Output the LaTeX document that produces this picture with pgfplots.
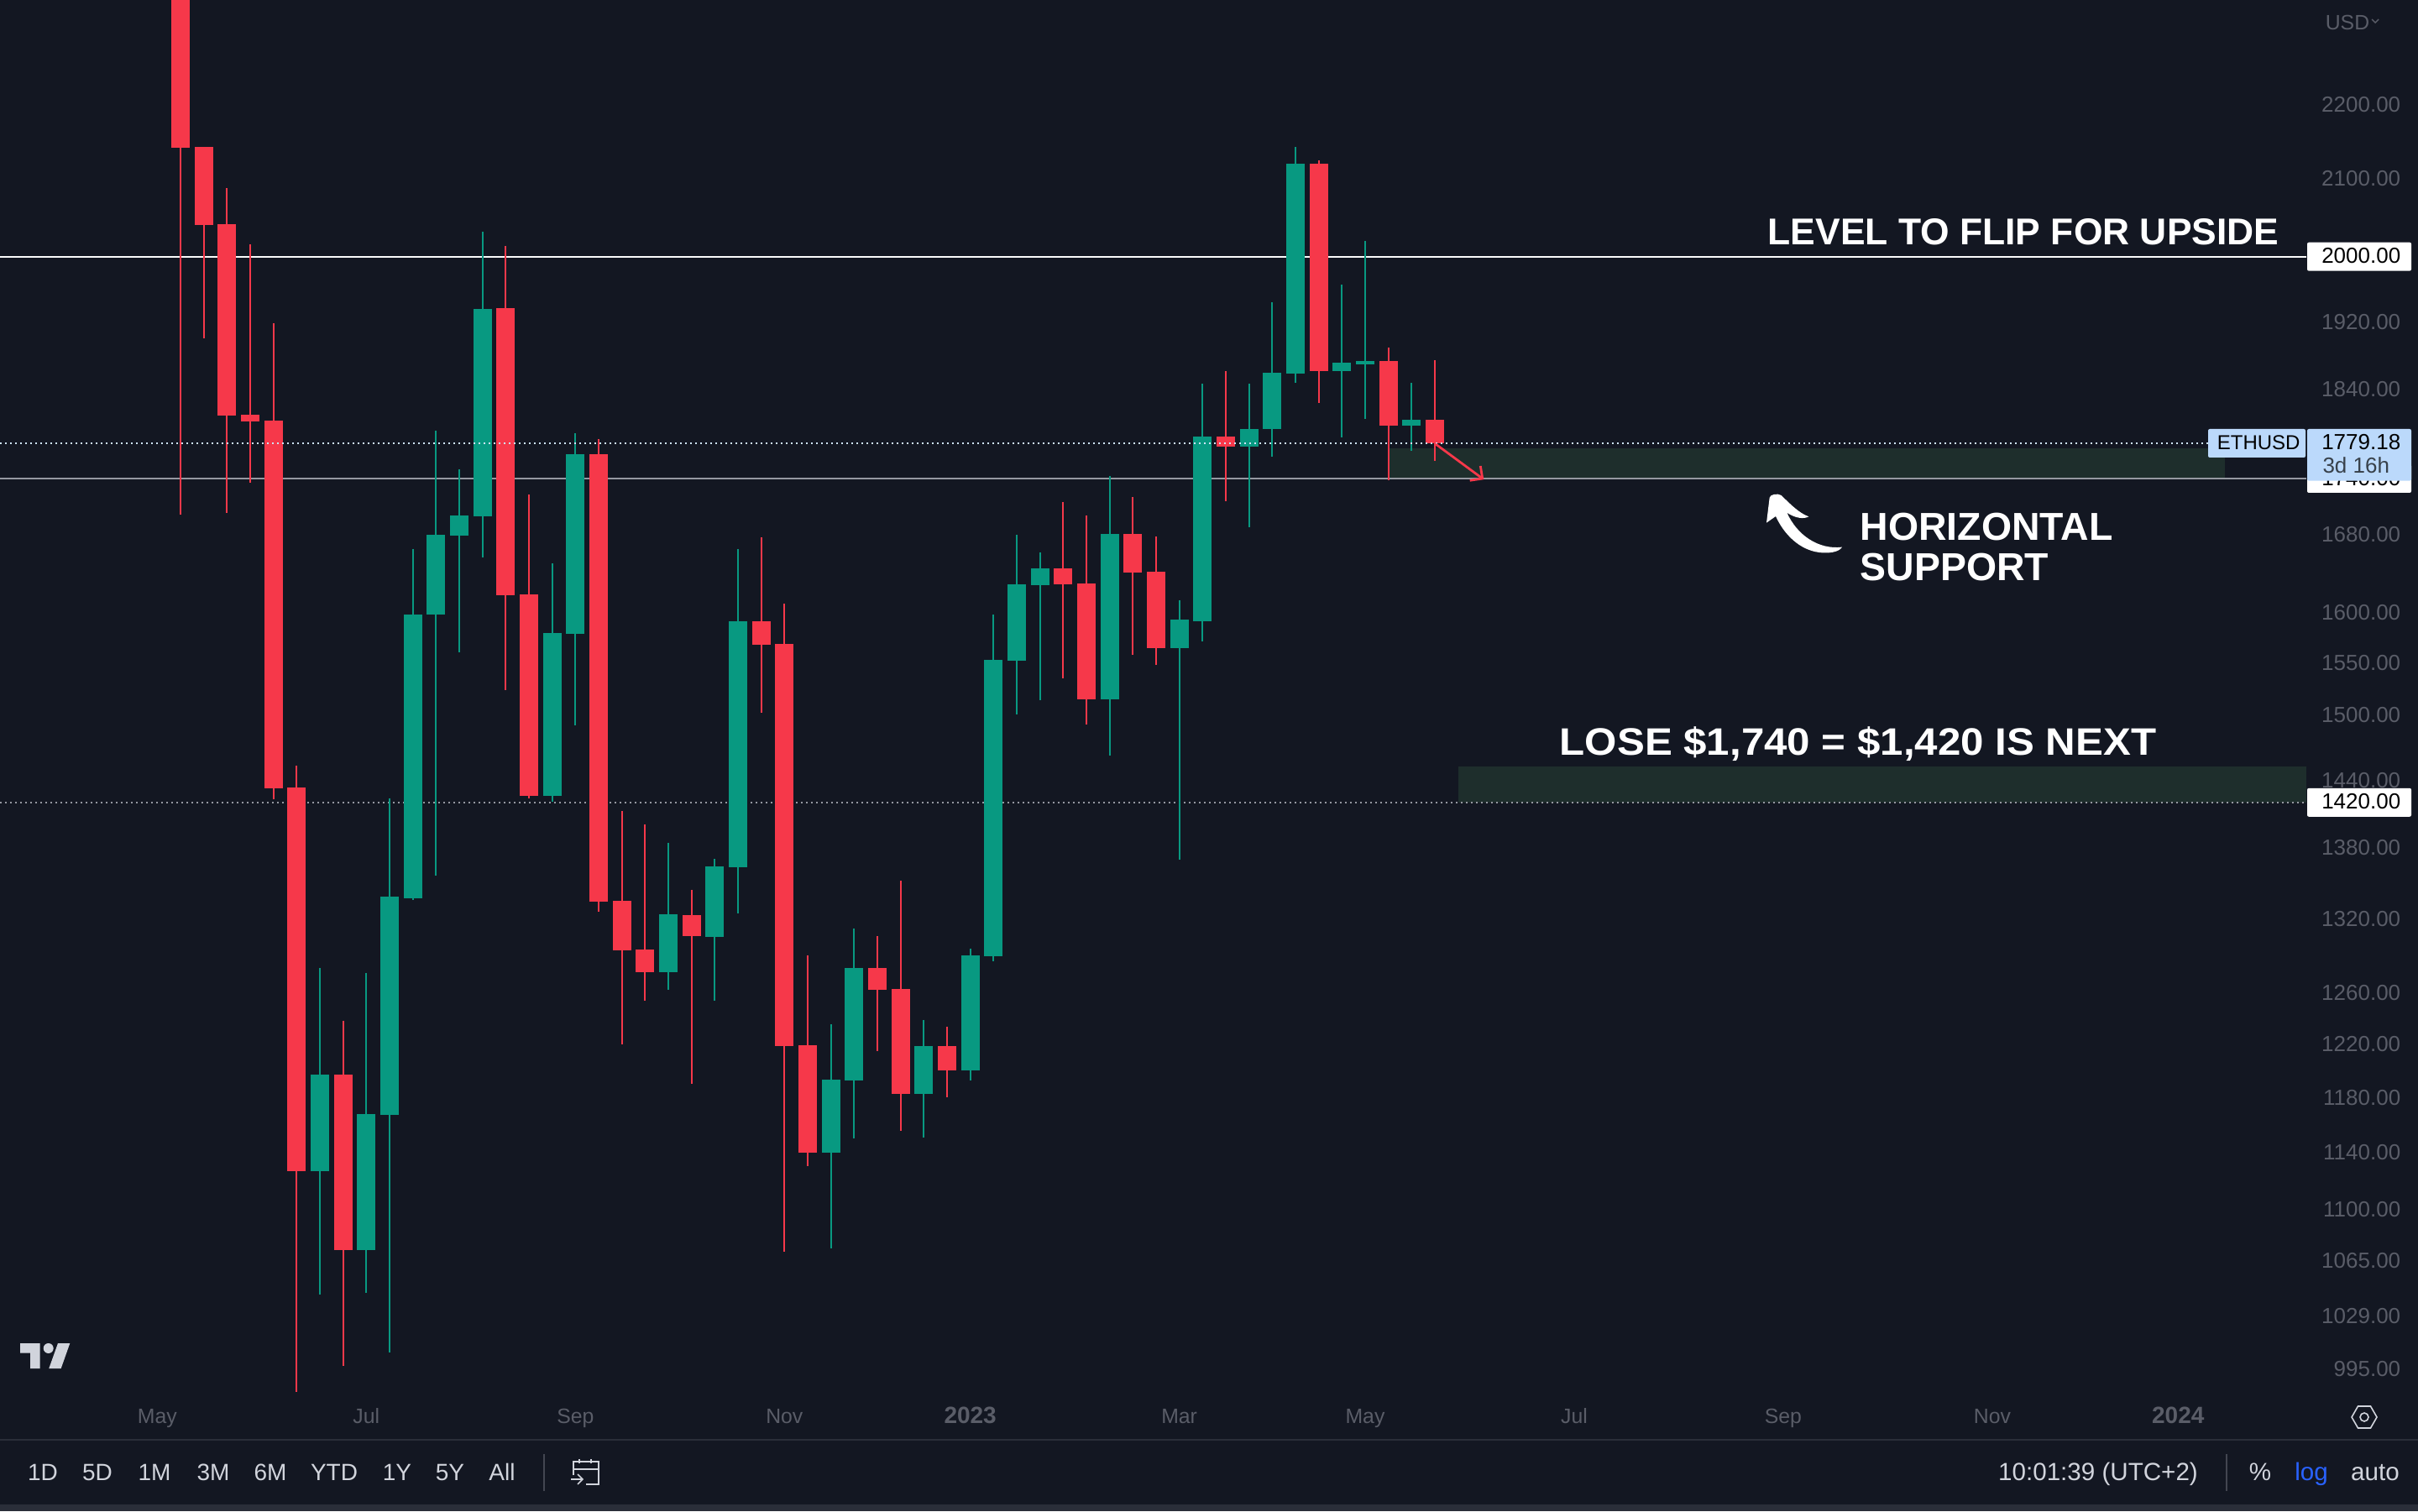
\documentclass[border=0pt]{standalone}
\usepackage{fontspec}
\setmainfont{Liberation Sans}
\usepackage{graphicx}
\usepackage{pgfplots}
\usepackage{pgfplotstable}
\pgfplotsset{compat=1.18}
\definecolor{bg}{HTML}{131722}
\definecolor{up}{HTML}{089981}
\definecolor{dn}{HTML}{F6384A}
\definecolor{zone}{HTML}{1E2E2C}
\definecolor{axtxt}{HTML}{5A5D68}
\definecolor{tool}{HTML}{D1D4DC}
\definecolor{sep}{HTML}{2A2E39}
\definecolor{sepv}{HTML}{434651}
\definecolor{pricebox}{HTML}{BBD9FB}
\definecolor{supp}{HTML}{9598A1}
\newcommand\fs[1]{\fontsize{#1}{#1}\selectfont}

% week index, open, high, low, close
\pgfplotstableread{
x open high low close
0 2477.0 2500.0 1700.9 2141.0
1 2142.2 2142.2 1900.3 2040.3
2 2040.9 2088.0 1702.8 1810.2
3 1811.2 2015.4 1735.2 1803.5
4 1804.6 1918.2 1422.9 1432.7
5 1433.5 1453.3 980.9 1126.8
7 1197.0 1238.2 997.2 1072.2
14 1936.4 2013.7 1523.9 1617.1
15 1618.0 1722.4 1423.8 1425.8
18 1766.8 1783.5 1326.0 1334.3
19 1335.1 1412.2 1219.9 1294.2
20 1294.7 1400.7 1254.0 1276.7
22 1323.0 1344.1 1190.1 1305.8
25 1591.0 1676.8 1502.2 1567.6
26 1568.8 1608.5 1071.0 1218.6
27 1219.5 1290.2 1130.4 1140.0
30 1279.9 1305.8 1214.7 1262.3
31 1263.2 1351.7 1155.4 1182.6
33 1218.6 1233.8 1180.1 1199.8
38 1644.5 1714.4 1534.9 1628.4
39 1629.2 1700.3 1491.3 1514.8
41 1680.5 1719.8 1557.6 1640.3
42 1641.2 1677.7 1547.9 1564.3
45 1786.4 1861.4 1715.4 1775.3
49 2120.1 2124.6 1824.6 1861.4
52 1873.1 1889.1 1738.1 1798.8
54 1805.4 1874.1 1759.4 1779.18
}\reddata
\pgfplotstableread{
x open high low close
6 1126.8 1279.9 1042.6 1197.0
8 1072.2 1275.9 1043.8 1167.7
9 1167.1 1423.8 1005.5 1338.5
10 1337.0 1664.9 1335.4 1597.8
11 1597.8 1793.3 1356.2 1679.6
12 1678.6 1750.2 1560.4 1700.0
13 1699.5 2031.5 1655.8 1935.3
16 1425.8 1649.7 1420.9 1579.2
17 1578.3 1790.1 1490.4 1766.8
21 1276.7 1384.6 1262.3 1323.9
23 1304.9 1370.4 1254.0 1364.1
24 1363.2 1664.5 1324.4 1591.0
28 1140.0 1235.1 1073.3 1193.4
29 1192.6 1311.9 1150.1 1279.9
32 1182.6 1239.0 1150.9 1218.6
34 1199.8 1295.7 1192.6 1290.2
35 1289.3 1597.7 1285.2 1552.8
36 1552.0 1679.7 1500.7 1628.4
37 1627.4 1661.1 1514.1 1644.5
40 1514.8 1743.0 1462.3 1680.5
43 1564.3 1612.1 1369.9 1592.6
44 1590.9 1846.8 1571.0 1786.4
46 1775.3 1846.8 1687.5 1795.0
47 1795.0 1943.6 1764.0 1859.5
48 1858.5 2142.6 1847.8 2120.1
50 1861.4 1965.1 1785.5 1871.2
51 1869.2 2019.7 1806.4 1873.1
53 1798.8 1847.8 1770.5 1805.4
}\greendata

\newcommand{\candles}[2]{%
  \pgfplotstablegetrowsof{#1}\let\nrows\pgfplotsretval
  \pgfmathtruncatemacro\lastrow{\nrows-1}%
  \pgfplotsforeachungrouped \rr in {0,...,\lastrow}{%
    \pgfplotstablegetelem{\rr}{x}\of{#1}\let\cX\pgfplotsretval
    \pgfplotstablegetelem{\rr}{open}\of{#1}\let\cO\pgfplotsretval
    \pgfplotstablegetelem{\rr}{high}\of{#1}\let\cH\pgfplotsretval
    \pgfplotstablegetelem{\rr}{low}\of{#1}\let\cL\pgfplotsretval
    \pgfplotstablegetelem{\rr}{close}\of{#1}\let\cC\pgfplotsretval
    \pgfmathsetmacro\xa{\cX-0.4}%
    \pgfmathsetmacro\xb{\cX+0.4}%
    \edef\tmpplot{%
      \noexpand\addplot[forget plot,draw=#2,line width=0.5pt,mark=none] coordinates {(\cX,\cH) (\cX,\cL)};
      \noexpand\addplot[forget plot,fill=#2,draw=none,mark=none] coordinates {(\xa,\cO) (\xb,\cO) (\xb,\cC) (\xa,\cC)} --cycle;
    }%
    \tmpplot
  }%
}

\begin{document}
\begin{tikzpicture}
\useasboundingbox (0,0) rectangle (720pt,450pt);
\fill[bg] (0,0) rectangle (720pt,450pt);
\begin{axis}[
  scale only axis, width=686.75pt, height=415pt,
  at={(0pt,35pt)}, anchor=south west,
  ymode=log, xmin=-7.771, xmax=91.52, ymin=979.9, ymax=2349.5,
  axis line style={draw=none}, tick style={draw=none},
  major tick length=0pt, minor tick num=0,
  yticklabel pos=right,
  ytick={2200,2100,1920,1840,1680,1600,1550,1500,1440,1380,1320,1260,1220,1180,1140,1100,1065,1029,995},
  yticklabels={2200.00,2100.00,1920.00,1840.00,1680.00,1600.00,1550.00,1500.00,1440.00,1380.00,1320.00,1260.00,1220.00,1180.00,1140.00,1100.00,1065.00,1029.00,995.00},
  yticklabel style={anchor=east, inner sep=0pt, xshift=28.25pt, text=axtxt, font=\fs{6.5}},
  xtick={-1,8,17,26,34,43,51,60,69,78,86},
  xticklabels={May,Jul,Sep,Nov,{\fs{7}\bfseries 2023},Mar,May,Jul,Sep,Nov,{\fs{7}\bfseries 2024}},
  xticklabel style={anchor=base, inner sep=0pt, yshift=-9pt, text=axtxt, font=\fs{6.2}},
]
% zones
\addplot[forget plot,fill=zone,draw=none] coordinates {(52.05,1773.4) (88.01,1773.4) (88.01,1740) (52.05,1740)} --cycle;
\addplot[forget plot,fill=zone,draw=none] coordinates {(55.01,1452.6) (91.52,1452.6) (91.52,1420) (55.01,1420)} --cycle;
% levels
\addplot[forget plot,draw=white!90!tool,line width=0.45pt] coordinates {(-7.771,2000) (91.52,2000)};
\addplot[forget plot,draw=supp,line width=0.45pt] coordinates {(-7.771,1740) (91.52,1740)};
\addplot[forget plot,draw=supp,line width=0.5pt,dash pattern=on 0.5pt off 1pt] coordinates {(-7.771,1420) (91.52,1420)};
\candles{\reddata}{dn}
\candles{\greendata}{up}
% current price
\addplot[forget plot,draw=pricebox!70!white,line width=0.5pt,dash pattern=on 0.5pt off 1pt] coordinates {(-7.771,1779.18) (87.3,1779.18)};
\end{axis}

\begin{scope}[x=0.25pt,y=-0.25pt,yshift=450pt]
% red arrow
\draw[dn,line width=0.7pt,line join=miter] (1710,529)--(1765.7,570);
\draw[dn,line width=0.7pt,line join=miter] (1763.3,555)--(1765.7,570)--(1750.7,572.3);
% annotations
\node[anchor=base east,inner sep=0pt,text=white,font=\fs{11.1}\bfseries] at (2715,292) {LEVEL TO FLIP FOR UPSIDE};
\node[anchor=base west,inner sep=0pt,text=white,font=\fs{11.6}\bfseries] at (2215,644) {HORIZONTAL};
\node[anchor=base west,inner sep=0pt,text=white,font=\fs{11.6}\bfseries] at (2215,691.7) {SUPPORT};
\node[anchor=base west,inner sep=0pt,text=white,font=\fs{11.4}\bfseries] at (1857,900) {\scalebox{1.08}[1]{LOSE \$1,740 = \$1,420 IS NEXT}};
% curved arrow
\begin{scope}[shift={(2040,540)},x=0.08333pt,y=-0.08333pt]
\fill[white] (192,248)--(203,158) .. controls (206,146) and (232,142) .. (245,150)
  .. controls (275,180) and (310,215) .. (343,226) .. controls (325,236) and (295,232) .. (265,212)
  .. controls (300,290) and (375,345) .. (462,335) .. controls (450,355) and (410,358) .. (380,354)
  .. controls (310,345) and (255,290) .. (225,225) --cycle;
\end{scope}
% price labels
\fill[white,rounded corners=0.5pt] (2748,288.7) rectangle (2872,322.7);
\node[anchor=base east,inner sep=0pt,text=black,font=\fs{6.5}] at (2860,314) {2000.00};
\fill[white,rounded corners=0.5pt] (2748,938.8) rectangle (2872,972.8);
\node[anchor=base east,inner sep=0pt,text=black,font=\fs{6.5}] at (2860,964) {1420.00};
\fill[white,rounded corners=0.5pt] (2748,553) rectangle (2872,587);
\node[anchor=base east,inner sep=0pt,text=black,font=\fs{6.5}] at (2860,578.5) {1740.00};
\fill[pricebox,rounded corners=0.5pt] (2748,511) rectangle (2872,572.7);
\fill[pricebox,rounded corners=0.5pt] (2630,511) rectangle (2746,545);
\node[anchor=base east,inner sep=0pt,text=black,font=\fs{6.5}] at (2860,535.7) {1779.18};
\node[anchor=base west,inner sep=0pt,text=black!70!pricebox,font=\fs{6.5}] at (2765.7,563.3) {3d 16h};
\node[anchor=base west,inner sep=0pt,text=black,font=\fs{6}] at (2640,535.7) {ETHUSD};
% USD
\node[anchor=base west,inner sep=0pt,text=axtxt,font=\fs{6.2}] at (2769,35.5) {USD};
\draw[axtxt,line width=0.35pt] (2825,23)--(2829,27)--(2833,23);
% logo
\fill[tool] (24,1600)--(47.7,1600)--(47.7,1630)--(36,1630)--(36,1611.7)--(24,1611.7)--cycle;
\fill[tool] (57.7,1606) circle (6);
\fill[tool] (69,1600)--(83.3,1600)--(72.7,1630)--(58.3,1630)--cycle;
% separators
\fill[sep] (0,1714) rectangle (2880,1716);
\fill[sep] (0,1792) rectangle (2880,1800);
\fill[sepv] (646.5,1732) rectangle (648.5,1776);
\fill[sepv] (2651,1732) rectangle (2653,1776);
% toolbar
\foreach \xx/\lab in {51/1D,116/5D,184/1M,254/3M,322/6M,398/YTD,473/1Y,536/5Y,598/All}{
  \node[anchor=base,inner sep=0pt,text=tool,font=\fs{7}] at (\xx,1763.5) {\lab};
}
\node[anchor=base,inner sep=0pt,text=tool,font=\fs{7.4}] at (2499,1763.5) {10:01:39 (UTC+2)};
\node[anchor=base,inner sep=0pt,text=tool,font=\fs{7.4}] at (2692,1763.5) {\%};
\node[anchor=base,inner sep=0pt,text={rgb,255:red,41;green,98;blue,255},font=\fs{7.4}] at (2753,1763.5) {log};
\node[anchor=base,inner sep=0pt,text=tool,font=\fs{7.4}] at (2829,1763.5) {auto};
% calendar icon
\draw[tool,line width=0.4pt] (683,1757)--(683,1741)--(713,1741)--(713,1768)--(698,1768);
\draw[tool,line width=0.4pt] (683,1750)--(713,1750);
\draw[tool,line width=0.4pt] (690,1738)--(690,1743) (704,1738)--(704,1743);
\draw[tool,line width=0.4pt] (680,1762)--(694,1762) (688,1756)--(694,1762)--(688,1768);
% settings icon
\draw[tool,line width=0.4pt] (2801,1688)--(2808.5,1675)--(2823.5,1675)--(2831,1688)--(2823.5,1701)--(2808.5,1701)--cycle;
\draw[tool,line width=0.4pt] (2816,1688) circle (5);
\end{scope}
\end{tikzpicture}
\end{document}
